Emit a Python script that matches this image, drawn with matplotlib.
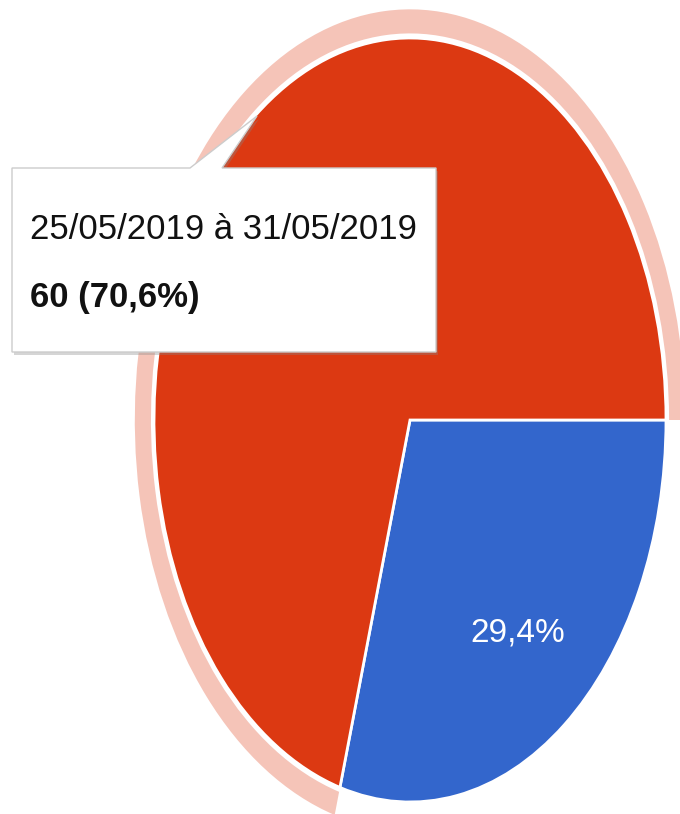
import matplotlib
matplotlib.use("Agg")
import matplotlib.pyplot as plt
from matplotlib.patches import Wedge, Polygon

# données du graphique (semaine sélectionnée = tranche rouge)
categories = ["18/05/2019 à 24/05/2019", "25/05/2019 à 31/05/2019"]
valeurs = [25, 60]
couleurs = ["#3366CC", "#DC3912"]
halo = "#F5C4B8"
selection = 1

police = ["Liberation Sans", "DejaVu Sans"]

fig = plt.figure(figsize=(6.8, 8.14), dpi=100)
ax = fig.add_axes([0, 0, 1, 1])

def pourcentage(p):
    return f"{p:.1f}".replace(".", ",") + "%"

wedges, textes, autotextes = ax.pie(
    valeurs, colors=couleurs, startangle=0, counterclock=False,
    autopct=pourcentage, pctdistance=0.7,
    wedgeprops=dict(edgecolor="white", linewidth=2),
    textprops=dict(color="white", fontsize=24, family=police))
# l'étiquette de la tranche sélectionnée est cachée par l'info-bulle
autotextes[selection].remove()

# halo autour de la tranche sélectionnée
w = wedges[selection]
ax.add_patch(Wedge((0, 0), 1.075, w.theta1, w.theta2, width=0.063,
                   facecolor=halo, edgecolor="none", zorder=0))

# image étirée verticalement comme la capture
ax.set_aspect("auto")
ax.set_xlim(-410 / 256, 270 / 256)
ax.set_ylim(-394 / 382, 420 / 382)
ax.axis("off")

# info-bulle par-dessus
ax2 = fig.add_axes([0, 0, 1, 1], zorder=5)
ax2.set_xlim(0, 680)
ax2.set_ylim(814, 0)
ax2.axis("off")
ax2.patch.set_alpha(0)

bulle = [(12, 168), (190, 168), (257, 116), (222, 168), (436, 168), (436, 352), (12, 352)]
ombre = [(x + 2, y + 3) for x, y in bulle]
ax2.add_patch(Polygon(ombre, closed=True, facecolor="#888888", alpha=0.35, edgecolor="none"))
ax2.add_patch(Polygon(bulle, closed=True, facecolor="white", edgecolor="#cccccc", linewidth=1))

pct_sel = 100 * valeurs[selection] / sum(valeurs)
ax2.text(30, 239, categories[selection], fontsize=25, family=police,
         color="#111111", va="baseline", ha="left")
ax2.text(30, 307, f"{valeurs[selection]} ({pourcentage(pct_sel)})", fontsize=25,
         family=police, fontweight="bold", color="#111111", va="baseline", ha="left")

fig.savefig("out.png", dpi=100, facecolor="white")
